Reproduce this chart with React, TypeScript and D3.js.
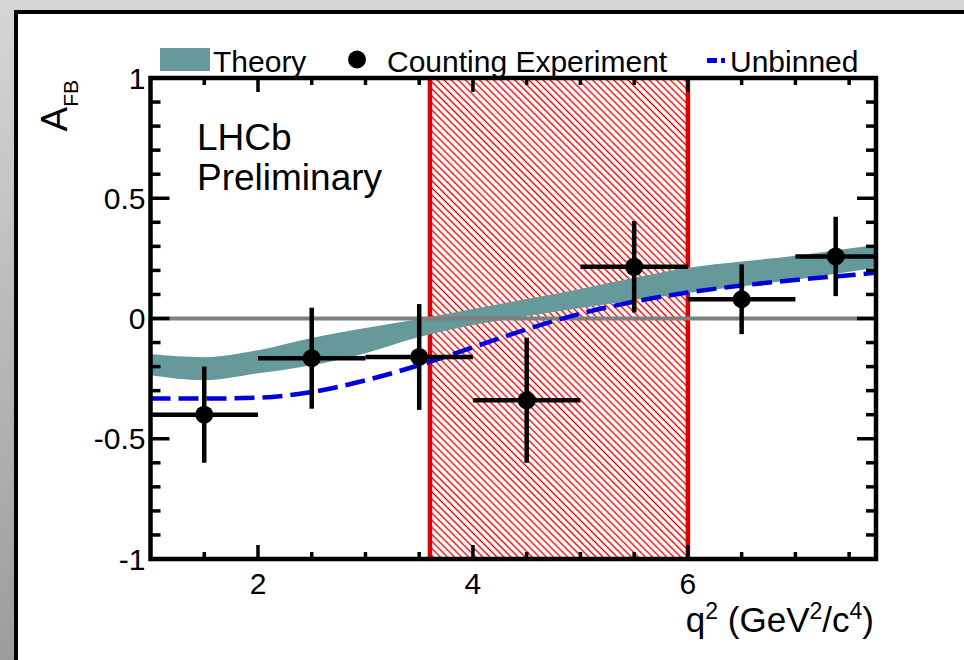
import React from 'react';
import * as d3 from 'd3';

const W = 964;
const H = 660;

// Theory band (SM prediction)
const theoryQ2 = [1.0, 1.5, 2.0, 2.5, 3.0, 3.5, 4.0, 4.5, 5.0, 5.5, 6.0, 6.5, 7.0, 7.5, 7.75];
const theoryLow = [-0.236, -0.257, -0.228, -0.194, -0.144, -0.077, -0.027, 0.01, 0.044, 0.077, 0.106, 0.134, 0.161, 0.194, 0.211];
const theoryHigh = [-0.148, -0.161, -0.132, -0.081, -0.04, -0.002, 0.04, 0.081, 0.123, 0.169, 0.211, 0.237, 0.261, 0.291, 0.307];

// Unbinned fit
const unbinnedQ2 = [1.0, 1.5, 2.0, 2.5, 3.0, 3.5, 4.0, 4.5, 5.0, 5.5, 6.0, 6.5, 7.0, 7.5, 7.75];
const unbinnedAfb = [-0.333, -0.333, -0.329, -0.306, -0.257, -0.194, -0.12, -0.045, 0.02, 0.07, 0.108, 0.137, 0.16, 0.18, 0.19];

// Counting experiment
const binLow = [1, 2, 3, 4, 5, 6, 7];
const binHigh = [2, 3, 4, 5, 6, 7, 7.75];
const binCenter = [1.5, 2.5, 3.5, 4.5, 5.5, 6.5, 7.375];
const countAfb = [-0.4, -0.165, -0.16, -0.34, 0.215, 0.08, 0.258];
const countErr = [0.2, 0.21, 0.22, 0.26, 0.19, 0.145, 0.165];

// Vetoed region
const vetoRange = [3.6, 6.0];

// Axes
const xDomain = [1, 7.75];
const yDomain = [-1, 1];
const xMajorTicks = [2, 4, 6];
const xMajorLabels = ['2', '4', '6'];
const xMinorTicks = [1.5, 2.5, 3, 3.5, 4.5, 5, 5.5, 6.5, 7, 7.5];
const yMajorTicks = [-1, -0.5, 0, 0.5, 1];
const yMajorLabels = ['-1', '-0.5', '0', '0.5', '1'];
const yMinorTicks = [-0.9, -0.8, -0.7, -0.6, -0.4, -0.3, -0.2, -0.1, 0.1, 0.2, 0.3, 0.4, 0.6, 0.7, 0.8, 0.9];

const legendLabels = ['Theory', 'Counting Experiment', 'Unbinned'];

const FONT = '"Liberation Sans", Arial, Helvetica, sans-serif';

export default function App() {
  const left = 150.5, right = 876, top = 78, bottom = 559;
  const x = d3.scaleLinear().domain(xDomain).range([left, right]);
  const y = d3.scaleLinear().domain(yDomain).range([bottom, top]);

  const bandData = theoryQ2.map((q, i) => ({ q, lo: theoryLow[i], hi: theoryHigh[i] }));
  const band = d3
    .area<{ q: number; lo: number; hi: number }>()
    .x((d) => x(d.q))
    .y0((d) => y(d.lo))
    .y1((d) => y(d.hi))
    .curve(d3.curveMonotoneX)(bandData) as string;

  const lineData = unbinnedQ2.map((q, i) => ({ q, v: unbinnedAfb[i] }));
  const line = d3
    .line<{ q: number; v: number }>()
    .x((d) => x(d.q))
    .y((d) => y(d.v))
    .curve(d3.curveMonotoneX)(lineData) as string;

  const tickW = 3.5;
  const xMajLen = 14, xMinLen = 7, yMajLen = 19, yMinLen = 10;

  return (
    <svg
      width={W}
      height={H}
      viewBox={`0 0 ${W} ${H}`}
      style={{ position: 'absolute', left: 0, top: 0, display: 'block' }}
      fontFamily={FONT}
    >
      <defs>
        <linearGradient id="bg" x1="0" y1="0" x2="0" y2="1">
          <stop offset="0" stopColor="#d6d6d6" />
          <stop offset="1" stopColor="#9c9c9c" />
        </linearGradient>
        <pattern id="hatch" width="5" height="5" patternUnits="userSpaceOnUse" patternTransform="rotate(-45)">
          <line x1="2.5" y1="0" x2="2.5" y2="5" stroke="#e80000" strokeWidth="1.4" />
        </pattern>
        <clipPath id="plotClip">
          <rect x={left} y={top} width={right - left} height={bottom - top} />
        </clipPath>
      </defs>

      <rect x={0} y={0} width={W} height={H} fill="url(#bg)" />
      <rect x={16} y={12} width={W} height={H} fill="#ffffff" stroke="#000" strokeWidth={4} />

      {/* Legend */}
      <g>
        <rect x={160} y={48} width={50} height={23} fill="#669999" />
        <text x={213} y={72} fontSize={30} fill="#000">{legendLabels[0]}</text>
        <circle cx={357} cy={59.5} r={9} fill="#000" />
        <text x={387} y={72} fontSize={30} fill="#000">{legendLabels[1]}</text>
        <line x1={707} y1={60.5} x2={726} y2={60.5} stroke="#0000dd" strokeWidth={5} strokeDasharray="10,4,4" />
        <text x={730} y={72} fontSize={30} fill="#000">{legendLabels[2]}</text>
      </g>

      {/* Plot content */}
      <g clipPath="url(#plotClip)">
        <rect
          x={x(vetoRange[0])}
          y={top}
          width={x(vetoRange[1]) - x(vetoRange[0])}
          height={bottom - top}
          fill="url(#hatch)"
        />
        {vetoRange.map((v, i) => (
          <line key={i} x1={x(v)} x2={x(v)} y1={top} y2={bottom} stroke="#dd0000" strokeWidth={4.5} />
        ))}
        <path d={band} fill="#669999" />
        <line x1={left} x2={right} y1={y(0)} y2={y(0)} stroke="#7f7f7f" strokeWidth={4} />
        <path d={line} fill="none" stroke="#0000dd" strokeWidth={4.5} strokeDasharray="20,8" />
        {binCenter.map((c, i) => (
          <g key={i}>
            <line x1={x(binLow[i])} x2={x(binHigh[i])} y1={y(countAfb[i])} y2={y(countAfb[i])} stroke="#000" strokeWidth={4.5} />
            <line
              x1={x(c)}
              x2={x(c)}
              y1={y(countAfb[i] - countErr[i])}
              y2={y(countAfb[i] + countErr[i])}
              stroke="#000"
              strokeWidth={4.5}
            />
            <circle cx={x(c)} cy={y(countAfb[i])} r={9} fill="#000" />
          </g>
        ))}
      </g>

      {/* Ticks */}
      <g stroke="#000" strokeWidth={tickW}>
        {xMajorTicks.map((t) => (
          <g key={'xm' + t}>
            <line x1={x(t)} x2={x(t)} y1={bottom} y2={bottom - xMajLen} />
            <line x1={x(t)} x2={x(t)} y1={top} y2={top + xMajLen} />
          </g>
        ))}
        {xMinorTicks.map((t) => (
          <g key={'xn' + t}>
            <line x1={x(t)} x2={x(t)} y1={bottom} y2={bottom - xMinLen} />
            <line x1={x(t)} x2={x(t)} y1={top} y2={top + xMinLen} />
          </g>
        ))}
        {yMajorTicks.map((t) => (
          <g key={'ym' + t}>
            <line x1={left} x2={left + yMajLen} y1={y(t)} y2={y(t)} />
            <line x1={right} x2={right - yMajLen} y1={y(t)} y2={y(t)} />
          </g>
        ))}
        {yMinorTicks.map((t) => (
          <g key={'yn' + t}>
            <line x1={left} x2={left + yMinLen} y1={y(t)} y2={y(t)} />
            <line x1={right} x2={right - yMinLen} y1={y(t)} y2={y(t)} />
          </g>
        ))}
      </g>

      {/* Frame */}
      <rect x={left} y={top} width={right - left} height={bottom - top} fill="none" stroke="#000" strokeWidth={4.5} />

      {/* Tick labels */}
      {xMajorTicks.map((t, i) => (
        <text key={'xl' + t} x={x(t)} y={bottom + 35} fontSize={30} textAnchor="middle" fill="#000">
          {xMajorLabels[i]}
        </text>
      ))}
      {yMajorTicks.map((t, i) => (
        <text key={'yl' + t} x={left - 5} y={y(t) + 10.5} fontSize={30} textAnchor="end" fill="#000">
          {yMajorLabels[i]}
        </text>
      ))}

      {/* Axis titles */}
      <text x={874} y={632} fontSize={35} textAnchor="end" fill="#000">
        q<tspan fontSize={23} dy={-13}>2</tspan>
        <tspan dy={13}> (GeV</tspan>
        <tspan fontSize={23} dy={-13}>2</tspan>
        <tspan dy={13}>/c</tspan>
        <tspan fontSize={23} dy={-13}>4</tspan>
        <tspan dy={13}>)</tspan>
      </text>
      <text transform="translate(67,80) rotate(-90)" fontSize={37} textAnchor="end" fill="#000">
        A<tspan fontSize={21} dy={11}>FB</tspan>
      </text>

      {/* LHCb label */}
      <text x={197} y={150} fontSize={37} fill="#000">LHCb</text>
      <text x={197} y={190} fontSize={37} fill="#000">Preliminary</text>
    </svg>
  );
}
